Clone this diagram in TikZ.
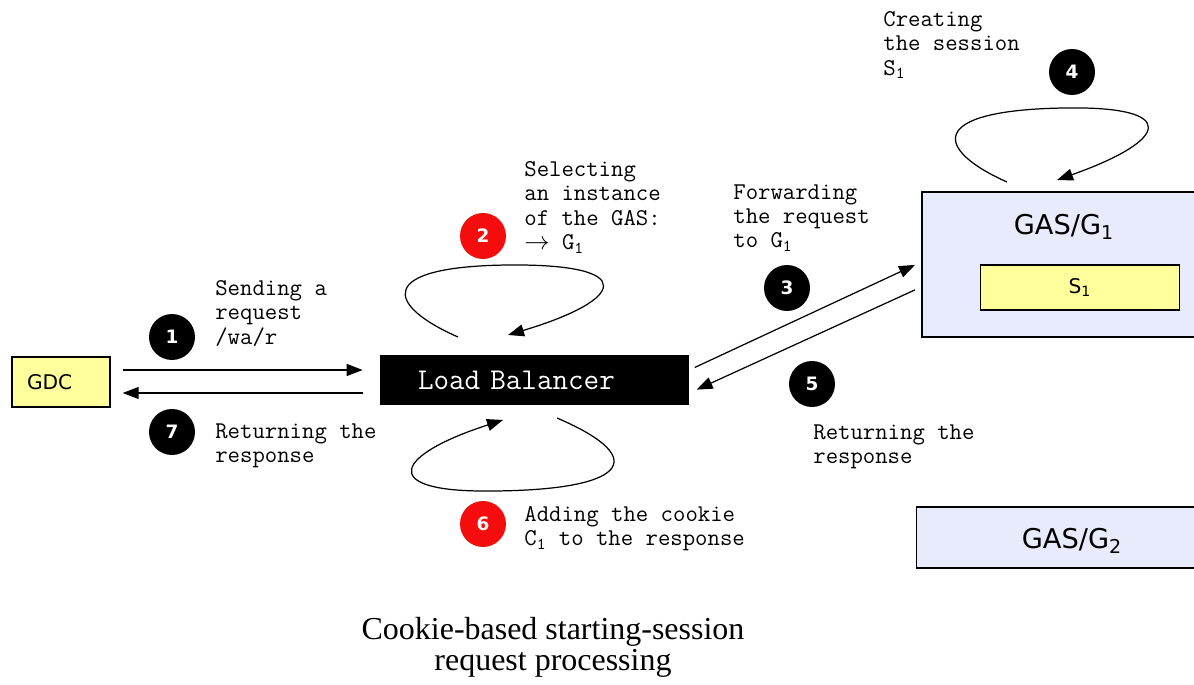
\documentclass[tikz,border=0pt]{standalone}
\usepackage{fontspec}
\setmainfont{Liberation Serif}
\setsansfont{DejaVu Sans}
\usetikzlibrary{arrows.meta}

\begin{document}
\begin{tikzpicture}[x=0.02cm, y=-0.02cm,
    flow/.style={line width=0.7pt, -{Triangle[length=0.32cm,width=0.24cm]}},
    num/.style={circle, fill=black, text=white, minimum size=0.92cm, inner sep=0pt,
                font=\sffamily\bfseries\fontsize{10.5}{10.5}\selectfont},
    note/.style={anchor=north west, align=left, inner sep=0pt,
                 font=\ttfamily\fontsize{13.7}{13.9}\selectfont},
    srv/.style={draw=black, line width=0.8pt, fill=gasblue, inner sep=0pt},
    srvname/.style={inner sep=0pt, font=\sffamily\fontsize{15.5}{15.5}\selectfont}]

    % Цвета
    \definecolor{gasblue}{RGB}{231,235,252}
    \definecolor{pale}{RGB}{255,255,156}
    \definecolor{stepred}{RGB}{245,12,12}

    \useasboundingbox (0,0) rectangle (1194,685);

    % Блоки
    \node[draw=black, line width=0.8pt, fill=pale, minimum height=1cm, text width=1.36cm,
          inner xsep=0.3cm, align=left, font=\sffamily\fontsize{11.5}{11.5}\selectfont]
          (gdc) at (61,382) {GDC};
    \node[fill=black, text=white, minimum height=1cm, text width=4.66cm, inner xsep=0.76cm,
          align=left, font=\ttfamily\fontsize{17.2}{17.2}\selectfont]
          (lb) at (534.5,380) {Load Balancer};
    \node[srv, minimum width=5.6cm, minimum height=2.9cm] (g1) at (1062,264.5) {};
    \node[srvname] (g1name) at (1064,227) {GAS/G\textsubscript{1}};
    \node[draw=black, line width=0.8pt, fill=pale, minimum width=3.98cm, minimum height=0.9cm,
          inner sep=0pt, font=\sffamily\fontsize{11.5}{11.5}\selectfont]
          (s1) at (1080,287.5) {S\textsubscript{1}};
    \node[srv, minimum width=5.7cm, minimum height=1.22cm] (g2) at (1059,537.5) {};
    \node[srvname] (g2name) at (1072,541) {GAS/G\textsubscript{2}};

    % Стрелки между блоками
    \draw[flow, shorten <=0.24cm, shorten >=0.34cm]
        ([yshift=0.24cm]gdc.east) -- ([yshift=0.24cm]gdc.east -| lb.west);
    \draw[flow, shorten <=0.34cm, shorten >=0.24cm]
        ([yshift=-0.22cm]gdc.east -| lb.west) -- ([yshift=-0.22cm]gdc.east);
    \draw[flow, shorten <=0.12cm, shorten >=0.14cm]
        ([yshift=0.2cm]lb.east) -- ([yshift=0.05cm]g1.west);
    \draw[flow, shorten <=0.14cm, shorten >=0.16cm]
        ([yshift=-0.45cm]g1.west) -- ([yshift=-0.26cm]lb.east);

    % Петли
    \coordinate (lbtopa) at (458,337);
    \coordinate (lbtopb) at (508,335);
    \coordinate (lbbota) at (557,418);
    \coordinate (lbbotb) at (503,420);
    \coordinate (gtopa) at (1007,182);
    \coordinate (gtopb) at (1057,180);
    \draw[flow] (lbtopa) .. controls (385,305) and (375,266) .. (510,265)
                         .. controls (640,264) and (625,300) .. (lbtopb);
    \draw[flow] (lbbota) .. controls (655,460) and (625,492) .. (480,491)
                         .. controls (380,490) and (395,455) .. (lbbotb);
    \draw[flow] (gtopa) .. controls (935,150) and (925,110) .. (1065,108)
                        .. controls (1180,106) and (1170,140) .. (gtopb);

    % Номера шагов
    \node[num] (n1) at (172,337) {1};
    \node[num, fill=stepred] (n2) at (483,236) {2};
    \node[num] (n3) at (787,288) {3};
    \node[num] (n4) at (1072,72) {4};
    \node[num] (n5) at (812,384) {5};
    \node[num, fill=stepred] (n6) at (483,524) {6};
    \node[num] (n7) at (172,432) {7};

    % Подписи шагов
    \node[note] (t1) at (215,280) {Sending a\\request\\/wa/r};
    \node[note] (t2) at (524,161) {Selecting\\an instance\\of the GAS:\\$\rightarrow$ G\textsubscript{1}};
    \node[note] (t3) at (733,184) {Forwarding\\the request\\to G\textsubscript{1}};
    \node[note] (t4) at (883,11) {Creating\\the session\\S\textsubscript{1}};
    \node[note] (t5) at (813,424) {Returning the\\response};
    \node[note] (t6) at (524,506) {Adding the cookie\\C\textsubscript{1} to the response};
    \node[note] (t7) at (215,423) {Returning the\\response};

    % Заголовок
    \node[align=center, inner sep=0pt, font=\rmfamily\fontsize{18.2}{17.5}\selectfont]
        (caption) at (553,647) {Cookie-based starting-session\\request processing};

\end{tikzpicture}
\end{document}
